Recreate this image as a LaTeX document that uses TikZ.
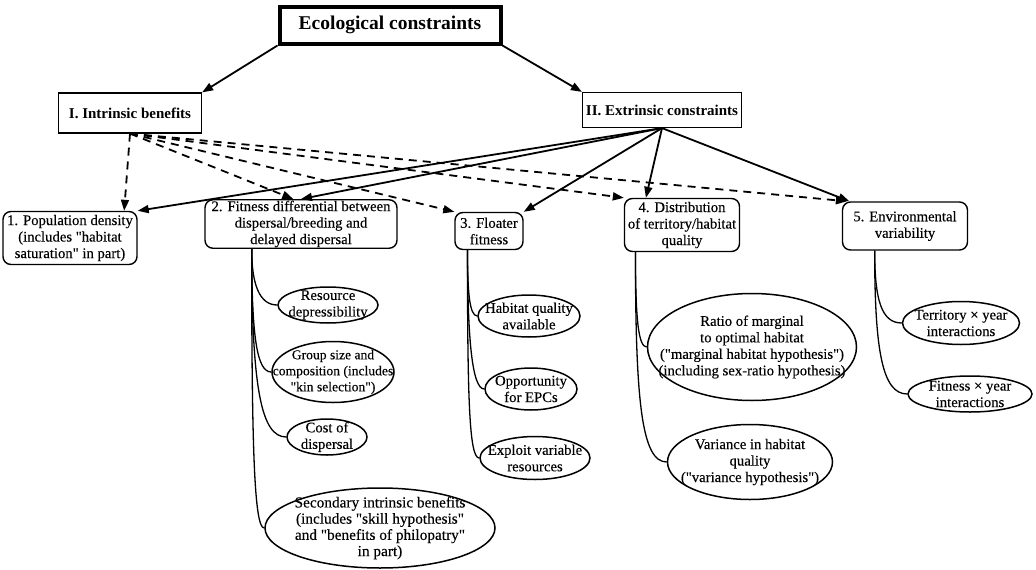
\documentclass[tikz,border=0pt]{standalone}
\usepackage{fontspec}
\setmainfont{Liberation Serif}
\newfontfamily\heavy{Liberation Serif}[FakeBold=0.25]
\newcommand\qd{{\XeTeXglyph\XeTeXcharglyph"22\relax}}
\usetikzlibrary{arrows.meta,calc,shapes.geometric}
\begin{document}
\begin{tikzpicture}[x=1pt,y=-1pt,
  every node/.style={font=\heavy\fontsize{14.7}{16.5}\selectfont, align=center, inner sep=1pt},
  titlebox/.style={draw, line width=4pt, minimum width=221pt, minimum height=37pt, font=\fontsize{19.5}{22}\selectfont\bfseries},
  headbox/.style={draw, line width=1.2pt, font=\fontsize{15}{17}\selectfont\bfseries},
  rbox/.style={draw, line width=1.4pt, rounded corners=8pt},
  ell/.style={draw, ellipse, line width=1.5pt, inner sep=0pt},
  solidarrow/.style={line width=1.8pt, -{Triangle[length=11pt,width=8pt]}},
  dasharrow/.style={line width=1.8pt, dash pattern=on 8pt off 6pt, -{Triangle[length=11pt,width=8pt]}},
  conn/.style={line width=1.3pt},
]
\useasboundingbox (0,0) rectangle (1036,570);

% top level
\node[titlebox] (T) at (390,25) {Ecological constraints};
\node[headbox, minimum width=143pt, minimum height=40pt] (I) at (130,113) {I. Intrinsic benefits};
\node[headbox, minimum width=159pt, minimum height=35pt] (II) at (662,110) {II. Extrinsic constraints};

% second level
\node[rbox, minimum width=134pt, minimum height=53pt] (n1) at (70,238) {1. Population density\\(includes \qd habitat\\saturation\qd{} in part)};
\node[rbox, minimum width=192pt, minimum height=48pt] (n2) at (301,224) {2. Fitness differential between\\dispersal/breeding and\\delayed dispersal};
\node[rbox, minimum width=68pt, minimum height=37pt] (n3) at (489,231) {3. Floater\\fitness};
\node[rbox, minimum width=115pt, minimum height=53pt] (n4) at (682,225) {4. Distribution\\of territory/habitat\\quality};
\node[rbox, minimum width=125pt, minimum height=48pt] (n5) at (905,226) {5. Environmental\\variability};

% ellipses
\node[ell, minimum width=100pt, minimum height=36pt] (e21) at (328,305) {};
\node (t21) at (e21) {Resource\\depressibility};
\node[ell, minimum width=122pt, minimum height=61pt] (e22) at (333,372) {};
\node[font=\heavy\fontsize{13.6}{16}\selectfont] (t22) at (e22) {Group size and\\composition (includes\\\qd kin selection\qd)};
\node[ell, minimum width=80pt, minimum height=36pt] (e23) at (327,437) {};
\node (t23) at (e23) {Cost of\\dispersal};
\node[ell, minimum width=230pt, minimum height=80pt] (e24) at (380,528) {};
\node[font=\heavy\fontsize{15.3}{16.2}\selectfont] (t24) at (e24) {Secondary intrinsic benefits\\(includes \qd skill hypothesis\qd\\and \qd benefits of philopatry\qd\\in part)};

\node[ell, minimum width=102pt, minimum height=42pt] (e31) at (529,316) {};
\node (t31) at (e31) {Habitat quality\\available};
\node[ell, minimum width=92pt, minimum height=42pt] (e32) at (531,389) {};
\node (t32) at (e32) {Opportunity\\for EPCs};
\node[ell, minimum width=110pt, minimum height=43pt] (e33) at (535,458) {};
\node (t33) at (e33) {Exploit variable\\resources};

\node[ell, minimum width=209pt, minimum height=107pt] (e41) at (752,347) {};
\node (t41) at (e41) {Ratio of marginal\\to optimal habitat\\(\qd marginal habitat hypothesis\qd)\\(including sex-ratio hypothesis)};
\node[ell, minimum width=165pt, minimum height=75pt] (e42) at (750,462) {};
\node (t42) at (e42) {Variance in habitat\\quality\\(\qd variance hypothesis\qd)};

\node[ell, minimum width=117pt, minimum height=43pt] (e51) at (961,323) {};
\node (t51) at (e51) {Territory × year\\interactions};
\node[ell, minimum width=124pt, minimum height=36pt] (e52) at (970,394) {};
\node (t52) at (e52) {Fitness × year\\interactions};

% arrows from title
\draw[solidarrow] (T.south west) -- (I.north east);
\draw[solidarrow] (T.south east) -- (II.north west);

% dashed arrows from I
\draw[dasharrow] (I.south) -- ($(n1.north west)!0.9!(n1.north east)$);
\draw[dasharrow] (I.south) -- ($(n2.north west)!0.46!(n2.north east)$);
\draw[dasharrow] (I.south) -- (n3.north west);
\draw[dasharrow] (I.south) -- (n4.north west);
\draw[dasharrow] (I.south) -- ($(n5.north west)!0.04!(n5.north east)$);

% solid arrows from II
\draw[solidarrow] (II.south) -- (n1.north east);
\draw[solidarrow] (II.south) -- (n2.north);
\draw[solidarrow] (II.south) -- (n3.north east);
\draw[solidarrow] (II.south) -- ($(n4.north west)!0.19!(n4.north east)$);
\draw[solidarrow] (II.south) -- ($(n5.north west)!0.06!(n5.north east)$);

% branch connectors
\coordinate (s2) at ($(n2.south west)!0.245!(n2.south east)$);
\coordinate (s3) at ($(n3.south west)!0.19!(n3.south east)$);
\coordinate (s4) at ($(n4.south west)!0.1!(n4.south east)$);
\coordinate (s5) at ($(n5.south west)!0.26!(n5.south east)$);

\draw[conn] (s2) .. controls +(0,35) and +(-18,0) .. (e21.west);
\draw[conn] (s2) .. controls +(0,90) and +(-14,0) .. (e22.west);
\draw[conn] (s2) .. controls +(0,140) and +(-25,0) .. (e23.west);
\draw[conn] (s2) .. controls +(0,200) and +(-10,0) .. (e24.west);

\draw[conn] (s3) .. controls +(0,40) and +(-8,0) .. (e31.west);
\draw[conn] (s3) .. controls +(0,90) and +(-12,0) .. (e32.west);
\draw[conn] (s3) .. controls +(0,150) and +(-10,0) .. (e33.west);

\draw[conn] (s4) .. controls +(0,70) and +(-8,0) .. (e41.west);
\draw[conn] (s4) .. controls +(0,150) and +(-25,0) .. (e42.west);

\draw[conn] (s5) .. controls +(0,50) and +(-20,0) .. (e51.west);
\draw[conn] (s5) .. controls +(0,100) and +(-25,0) .. (e52.west);
\end{tikzpicture}
\end{document}
